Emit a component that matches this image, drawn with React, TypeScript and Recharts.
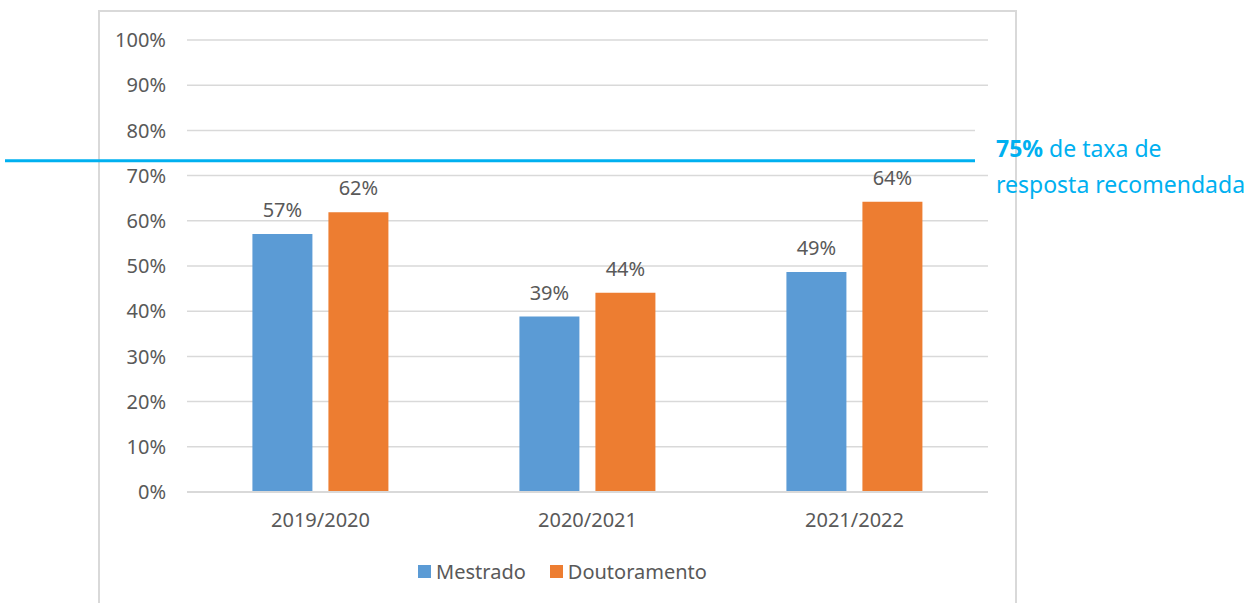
import { BarChart, Bar, XAxis, YAxis, CartesianGrid, ReferenceLine, LabelList, Legend } from 'recharts';

const years = ['2019/2020', '2020/2021', '2021/2022'];
const mestrado = [57.1, 38.8, 48.7];
const doutoramento = [61.9, 44.1, 64.2];
const yTicks = [0, 10, 20, 30, 40, 50, 60, 70, 80, 90, 100];
const seriesOrder = ['Mestrado', 'Doutoramento'];
const targetLine = 73.3;

const data = years.map((year, i) => ({
  year,
  mestrado: mestrado[i],
  doutoramento: doutoramento[i],
}));

const FONT = '"Noto Sans", sans-serif';
const TEXT = '#595959';

const TargetShape = (props: any) => (
  <line x1={5} y1={props.y1} x2={props.x2 - 13} y2={props.y2} stroke="#00B0F0" strokeWidth={3} />
);

const LegendContent = (props: any) => {
  const items = [...(props.payload || [])].sort(
    (a: any, b: any) => seriesOrder.indexOf(a.value) - seriesOrder.indexOf(b.value)
  );
  return (
    <div style={{ display: 'flex', justifyContent: 'center', fontFamily: FONT, fontSize: 20, color: TEXT }}>
      {items.map((p: any) => (
        <div key={p.value} style={{ display: 'flex', alignItems: 'center', margin: '0 12px' }}>
          <span style={{ width: 13, height: 13, background: p.color, marginRight: 5, display: 'inline-block' }} />
          <span>{p.value}</span>
        </div>
      ))}
    </div>
  );
};

export default function App() {
  return (
    <div style={{ position: 'absolute', left: 0, top: 0, width: 1249, height: 603, background: '#fff', overflow: 'hidden' }}>
      <div
        style={{
          position: 'absolute',
          left: 98,
          top: 10,
          width: 915,
          height: 640,
          border: '2px solid #d9d9d9',
        }}
      />
      <div style={{ position: 'absolute', left: 0, top: 0 }}>
        <BarChart
          width={1249}
          height={603}
          data={data}
          margin={{ top: 40, right: 261, bottom: 44, left: 127 }}
          barCategoryGap="24.5%"
          barGap={16}
        >
          <CartesianGrid vertical={false} stroke="#d9d9d9" strokeWidth={1.5} />
          <XAxis
            dataKey="year"
            height={40}
            tickLine={false}
            axisLine={{ stroke: '#d9d9d9', strokeWidth: 2 }}
            tickMargin={15}
            tick={{ fill: TEXT, fontSize: 20, fontFamily: FONT }}
          />
          <YAxis
            width={60}
            domain={[0, 100]}
            ticks={yTicks}
            tickFormatter={(v) => `${v}%`}
            axisLine={false}
            tickLine={false}
            tickMargin={15}
            tick={{ fill: TEXT, fontSize: 20, fontFamily: FONT }}
          />
          <Legend verticalAlign="bottom" content={LegendContent} wrapperStyle={{ left: 104, width: 917, top: 558 }} />
          <Bar dataKey="mestrado" name="Mestrado" fill="#5B9BD5" isAnimationActive={false}>
            <LabelList
              dataKey="mestrado"
              position="top"
              offset={17}
              formatter={(v: any) => `${Math.round(v)}%`}
              style={{ fill: TEXT, fontSize: 20, fontFamily: FONT }}
            />
          </Bar>
          <Bar dataKey="doutoramento" name="Doutoramento" fill="#ED7D31" isAnimationActive={false}>
            <LabelList
              dataKey="doutoramento"
              position="top"
              offset={17}
              formatter={(v: any) => `${Math.round(v)}%`}
              style={{ fill: TEXT, fontSize: 20, fontFamily: FONT }}
            />
          </Bar>
          <ReferenceLine y={targetLine} shape={TargetShape} ifOverflow="visible" />
        </BarChart>
      </div>
      <div style={{ position: 'absolute', left: 975, top: 124, width: 20, height: 44, background: '#fff' }} />
      <div
        style={{
          position: 'absolute',
          left: 996,
          top: 130,
          fontFamily: FONT,
          fontSize: 23,
          lineHeight: '36px',
          color: '#00B0F0',
          whiteSpace: 'nowrap',
        }}
      >
        <div>
          <b>75%</b> de taxa de
        </div>
        <div>resposta recomendada</div>
      </div>
    </div>
  );
}
